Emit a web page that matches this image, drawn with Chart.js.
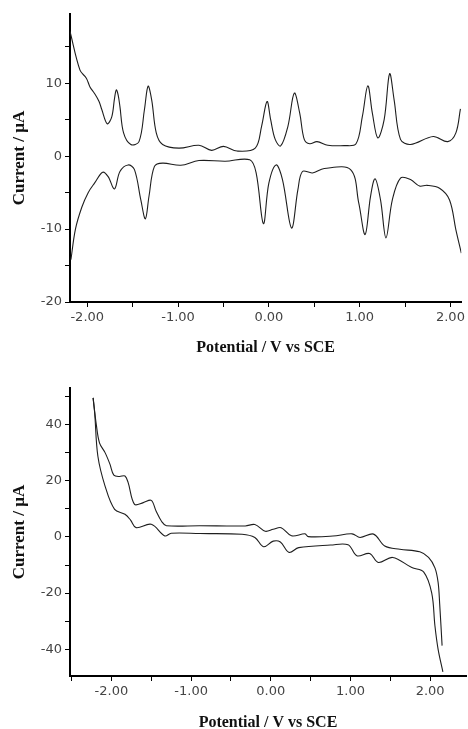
<!DOCTYPE html>
<html>
<head>
<meta charset="utf-8">
<script src="https://cdn.jsdelivr.net/npm/chart.js@4.4.1/dist/chart.umd.min.js"></script>
<style>
  body { margin: 0; background: #fff; }
  canvas { position: absolute; left: 0; }
  #topChart { top: 0; }
  #bottomChart { top: 360px; }
</style>
</head>
<body>
<canvas id="topChart" width="468" height="360"></canvas>
<canvas id="bottomChart" width="468" height="369"></canvas>
<script>
// Top panel: two separate traces (anodic above zero, cathodic below)
const topUpperV = [-2.19, -2.08, -2.01, -1.97, -1.92, -1.87, -1.84, -1.78, -1.73, -1.70, -1.68, -1.66, -1.64, -1.60, -1.52, -1.43, -1.37, -1.33, -1.29, -1.24, -1.17, -0.99, -0.77, -0.63, -0.50, -0.35, -0.15, -0.08, -0.02, 0.02, 0.07, 0.13, 0.21, 0.28, 0.34, 0.39, 0.45, 0.53, 0.65, 0.83, 0.96, 1.03, 1.09, 1.14, 1.20, 1.27, 1.33, 1.38, 1.45, 1.56, 1.81, 1.97, 2.06, 2.11];
const topUpperI = [17.1, 11.8, 10.7, 9.5, 8.6, 7.5, 6.4, 4.45, 5.4, 7.9, 9.1, 8.4, 6.8, 3.2, 1.6, 2.0, 6.4, 9.6, 7.7, 3.2, 1.6, 1.1, 1.5, 0.8, 1.35, 0.7, 1.1, 4.1, 7.5, 5.0, 2.3, 1.4, 4.1, 8.65, 5.9, 2.3, 1.7, 2.0, 1.5, 1.45, 1.7, 5.45, 9.65, 5.9, 2.5, 5.0, 11.3, 7.7, 2.3, 1.6, 2.7, 2.0, 3.2, 6.5];

const topLowerV = [-2.18, -2.13, -2.06, -1.99, -1.92, -1.83, -1.77, -1.70, -1.64, -1.55, -1.48, -1.41, -1.36, -1.32, -1.26, -1.17, -0.97, -0.77, -0.48, -0.21, -0.14, -0.06, 0.00, 0.08, 0.15, 0.25, 0.32, 0.37, 0.48, 0.61, 0.90, 0.99, 1.06, 1.12, 1.17, 1.23, 1.29, 1.36, 1.45, 1.56, 1.66, 1.74, 1.88, 1.99, 2.06, 2.12];
const topLowerI = [-14.2, -10.0, -7.0, -5.0, -3.7, -2.2, -2.8, -4.5, -2.1, -1.2, -1.85, -6.0, -8.6, -5.5, -1.4, -0.95, -1.25, -0.6, -0.7, -0.5, -2.3, -9.25, -3.7, -1.2, -3.2, -9.85, -4.6, -2.1, -2.3, -1.7, -1.85, -6.4, -10.75, -5.5, -3.1, -6.0, -11.2, -6.0, -3.0, -3.2, -4.1, -4.0, -4.4, -6.0, -10.1, -13.3];

const topXTicks = [-2, -1.5, -1, -0.5, 0, 0.5, 1, 1.5, 2];
const topYTicks = [-20, -15, -10, -5, 0, 5, 10, 15];

// Bottom panel: cyclic voltammogram, forward and reverse branches
const botUpperV = [-2.23, -2.19, -2.15, -2.08, -2.02, -1.97, -1.90, -1.83, -1.79, -1.71, -1.60, -1.50, -1.44, -1.37, -1.31, -0.89, -0.32, -0.20, -0.07, 0.03, 0.13, 0.26, 0.43, 0.47, 0.78, 1.02, 1.12, 1.29, 1.43, 1.62, 1.87, 1.98, 2.06, 2.10, 2.12, 2.15];
const botUpperI = [49.5, 40, 33.5, 30.0, 26, 22, 21.5, 21.7, 19.3, 11.6, 12.2, 13.0, 9.2, 5.5, 4.0, 4.0, 3.9, 4.4, 2.0, 2.7, 3.3, 0.4, 1.1, 0.1, 0.3, 1.1, -0.2, 1.0, -3.2, -4.4, -5.3, -7.3, -11, -16.2, -24, -38.7];

const botLowerV = [-2.23, -2.21, -2.17, -2.08, -1.96, -1.83, -1.76, -1.69, -1.50, -1.33, -1.25, -0.89, -0.36, -0.20, -0.09, 0.03, 0.12, 0.23, 0.35, 0.75, 0.97, 1.08, 1.24, 1.35, 1.53, 1.77, 1.92, 2.02, 2.06, 2.10, 2.16];
const botLowerI = [49.5, 44, 28.7, 18.1, 9.8, 8.05, 6.0, 3.3, 4.5, 0.35, 1.3, 1.2, 0.95, -0.2, -3.5, -1.5, -1.8, -5.5, -3.8, -2.9, -2.8, -6.7, -5.9, -9.1, -7.3, -10.9, -12.5, -20, -31.6, -40, -48];

const botXTicks = [-2.5, -2, -1.5, -1, -0.5, 0, 0.5, 1, 1.5, 2];
const botYTicks = [-40, -30, -20, -10, 0, 10, 20, 30, 40, 50];

const xTitle = 'Potential / V vs SCE';
const yTitle = 'Current / \u00b5A';

function toPoints(xs, ys) {
  return xs.map((x, i) => ({ x: x, y: ys[i] }));
}

function isMultiple(v, step) {
  return Math.abs(v / step - Math.round(v / step)) < 1e-6;
}

function makeTrace(xs, ys) {
  return {
    data: toPoints(xs, ys),
    showLine: true,
    borderColor: '#1e1e1e',
    borderWidth: 1.1,
    pointRadius: 0,
    tension: 0.35,
    fill: false
  };
}

function axisStyle() {
  return {
    grid: { display: true, drawOnChartArea: false, drawTicks: true, tickLength: 5, color: '#000', lineWidth: 1 },
    border: { display: true, color: '#000', width: 2 }
  };
}

function buildChart(canvasId, opts) {
  const ctx = document.getElementById(canvasId).getContext('2d');
  return new Chart(ctx, {
    type: 'scatter',
    data: {
      datasets: [makeTrace(opts.v1, opts.i1), makeTrace(opts.v2, opts.i2)]
    },
    options: {
      responsive: false,
      animation: false,
      layout: { padding: opts.padding },
      plugins: {
        legend: { display: false },
        tooltip: { enabled: false }
      },
      scales: {
        x: Object.assign(axisStyle(), {
          type: 'linear',
          min: opts.xMin,
          max: opts.xMax,
          afterBuildTicks: (scale) => { scale.ticks = opts.xTicks.map(v => ({ value: v })); },
          afterFit: (scale) => { scale.height = opts.xAxisHeight; },
          ticks: {
            autoSkip: false,
            maxRotation: 0,
            padding: 3,
            color: '#444',
            font: { family: 'DejaVu Sans', size: 13 },
            callback: (v) => isMultiple(v, 1) ? v.toFixed(2) : ''
          },
          title: {
            display: true,
            text: xTitle,
            color: '#111',
            font: { family: 'Liberation Serif', size: 16, weight: 'bold' },
            padding: { top: 0, bottom: opts.xTitlePad }
          }
        }),
        y: Object.assign(axisStyle(), {
          type: 'linear',
          min: opts.yMin,
          max: opts.yMax,
          afterBuildTicks: (scale) => { scale.ticks = opts.yTicks.map(v => ({ value: v })); },
          afterFit: (scale) => { scale.width = 70; },
          ticks: {
            autoSkip: false,
            padding: 3,
            color: '#444',
            font: { family: 'DejaVu Sans', size: 13 },
            callback: (v) => isMultiple(v, opts.yLabelStep) ? String(v) : ''
          },
          title: {
            display: true,
            text: yTitle,
            color: '#111',
            font: { family: 'Liberation Serif', size: 17, weight: 'bold' },
            padding: { top: 9, bottom: 0 }
          }
        })
      }
    }
  });
}

buildChart('topChart', {
  v1: topUpperV, i1: topUpperI, v2: topLowerV, i2: topLowerI,
  xMin: -2.19, xMax: 2.12, yMin: -20, yMax: 19.5,
  xTicks: topXTicks, yTicks: topYTicks, yLabelStep: 10,
  padding: { top: 14, right: 3, left: 0, bottom: 0 },
  xAxisHeight: 58, xTitlePad: 3
});

buildChart('bottomChart', {
  v1: botUpperV, i1: botUpperI, v2: botLowerV, i2: botLowerI,
  xMin: -2.52, xMax: 2.45, yMin: -49.5, yMax: 53,
  xTicks: botXTicks, yTicks: botYTicks, yLabelStep: 20,
  padding: { top: 28, right: 2, left: 0, bottom: 0 },
  xAxisHeight: 53, xTitlePad: -3
});
</script>
</body>
</html>
